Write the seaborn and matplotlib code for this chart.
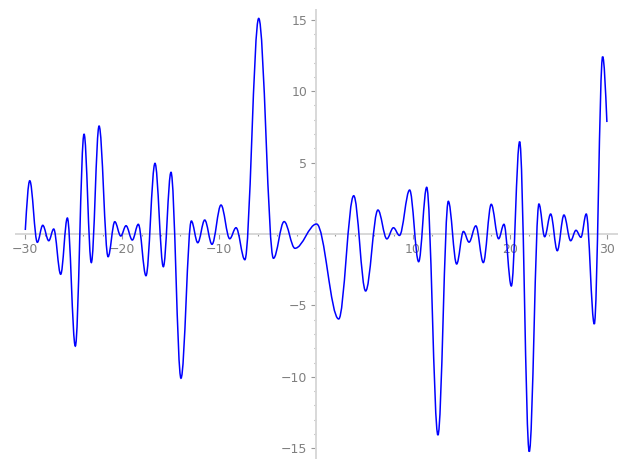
import matplotlib
matplotlib.use("Agg")
import matplotlib.pyplot as plt
import numpy as np
import seaborn as sns
from matplotlib.path import Path
from matplotlib.patches import PathPatch
from matplotlib.ticker import FixedLocator, MultipleLocator

# turning points of the curve (first/last are the ends)
x_pts = [
    -30.0, -29.54, -28.76, -28.2, -27.58, -27.07, -26.35, -25.66, -24.84, -23.94,
    -23.19, -22.39, -21.46, -20.77, -20.15, -19.61, -18.96, -18.34, -17.55, -16.62,
    -15.76, -14.97, -13.94, -12.87, -12.21, -11.49, -10.74, -9.81, -8.91, -8.26,
    -7.35, -5.92, -4.4, -3.3, -2.18, 0.05, 2.33, 3.88, 5.11, 6.38,
    7.3, 7.98, 8.6, 9.65, 10.58, 11.41, 12.57, 13.64, 14.5, 15.2,
    15.78, 16.48, 17.25, 18.07, 18.83, 19.38, 20.14, 21.0, 21.99, 22.99,
    23.58, 24.2, 24.88, 25.57, 26.26, 26.81, 27.32, 27.87, 28.7, 29.56,
    30.0,
]
y_pts = [
    0.28, 3.73, -0.58, 0.61, -0.47, 0.35, -2.82, 1.12, -7.85, 7.0,
    -2.0, 7.56, -1.59, 0.86, -0.14, 0.58, -0.42, 0.68, -2.92, 4.95,
    -2.29, 4.32, -10.1, 0.91, -0.61, 0.98, -0.72, 2.03, -0.33, 0.44,
    -1.8, 15.1, -1.7, 0.87, -1.0, 0.7, -5.95, 2.68, -3.99, 1.68,
    -0.34, 0.44, -0.1, 3.08, -1.94, 3.27, -14.08, 2.29, -2.1, 0.18,
    -0.57, 0.57, -2.0, 2.08, -0.33, 0.68, -3.64, 6.47, -15.24, 2.10,
    -0.19, 1.40, -1.17, 1.33, -0.47, 0.26, -0.23, 1.40, -6.30, 12.42,
    7.84,
]
x_ticks = [-30, -20, -10, 10, 20, 30]
y_ticks = [-15, -10, -5, 5, 10, 15]

sns.set_theme(style="white")
plt.rcParams["font.family"] = ["DejaVu Sans"]


def smooth_path(xs, ys, k=0.36):
    # cubic segments with flat tangents at the turning points
    n = len(xs)
    verts = [(xs[0], ys[0])]
    codes = [Path.MOVETO]
    for i in range(n - 1):
        x0, y0, x1, y1 = xs[i], ys[i], xs[i + 1], ys[i + 1]
        dx, dy = x1 - x0, y1 - y0
        if i == 0:
            c1 = (x0 + dx / 3, y0 + dy * 0.5)
        else:
            c1 = (x0 + k * dx, y0)
        if i == n - 2:
            c2 = (x1 - dx / 3, y1 - dy * 0.5)
        else:
            c2 = (x1 - k * dx, y1)
        verts += [c1, c2, (x1, y1)]
        codes += [Path.CURVE4] * 3
    return Path(verts, codes)


fig = plt.figure(figsize=(6.27, 4.7), dpi=100)
ax = fig.add_axes([0.0249, 0.0251, 0.9585, 0.954])
ax.set_xlim(-31, 31)
ax.set_ylim(-15.7, 15.7)

ax.add_patch(PathPatch(smooth_path(x_pts, y_pts), fill=False,
                       edgecolor="blue", lw=1.1, zorder=3))

for side in ["top", "right"]:
    ax.spines[side].set_visible(False)
ax.spines["left"].set_position(("data", 0))
ax.spines["bottom"].set_position(("data", 0))
for side in ["left", "bottom"]:
    ax.spines[side].set_color("#d8d8d8")
    ax.spines[side].set_linewidth(1.4)
    ax.spines[side].set_zorder(1)

ax.xaxis.set_major_locator(FixedLocator(x_ticks))
ax.yaxis.set_major_locator(FixedLocator(y_ticks))
ax.xaxis.set_minor_locator(MultipleLocator(2))
ax.yaxis.set_minor_locator(MultipleLocator(1))
ax.tick_params(which="both", direction="out", color="#999999", width=0.8,
               labelcolor="#808080", labelsize=9, bottom=True, left=True)
ax.tick_params(which="major", length=3.4, pad=3)
ax.tick_params(which="minor", length=1.7)
ax.grid(False)
ax.set_facecolor("white")

fig.savefig("out.png", dpi=100)
